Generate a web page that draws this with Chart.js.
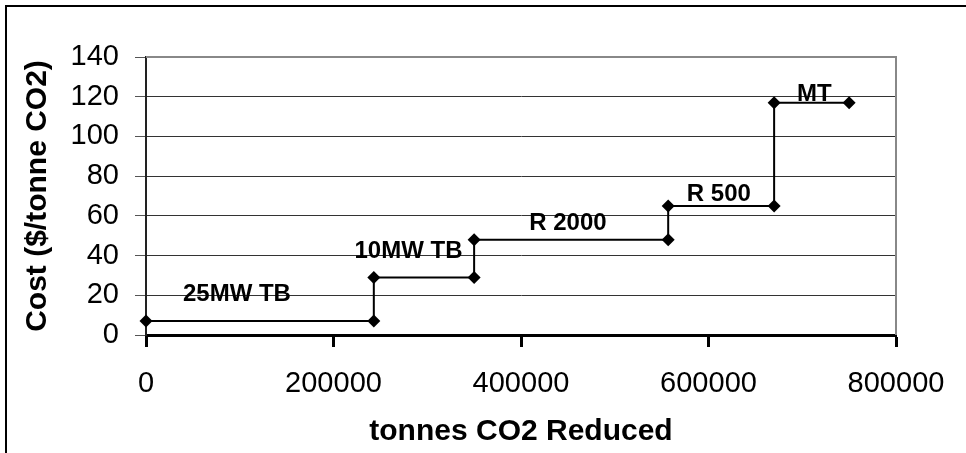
<!DOCTYPE html>
<html>
<head>
<meta charset="utf-8">
<script src="https://cdn.jsdelivr.net/npm/chart.js@4/dist/chart.umd.min.js"></script>
<style>
  body { margin: 0; background: #fff; }
  canvas { display: block; }
</style>
</head>
<body>
<canvas id="costChart" width="966" height="453"></canvas>
<script>
// step curve: cumulative tonnes reduced vs cost per tonne
const tonnesReduced = [0, 243000, 243000, 350000, 350000, 557000, 557000, 670000, 670000, 750000];
const costPerTonne = [7, 7, 29, 29, 48, 48, 65, 65, 117, 117];

// option labels and where they sit (data units)
const optionNames = ['25MW TB', '10MW TB', 'R 2000', 'R 500', 'MT'];
const optionLabelX = [97000, 280000, 450000, 611000, 713000];
const optionLabelY = [21.5, 43, 57, 72, 122];

const FONT = "'Liberation Sans', Arial, sans-serif";

const points = tonnesReduced.map((x, i) => ({ x: x, y: costPerTonne[i] }));

// white page + outer frame, and grey plot border on top/right
const framePlugin = {
  id: 'frame',
  beforeDraw(chart) {
    const ctx = chart.ctx;
    ctx.save();
    ctx.fillStyle = '#fff';
    ctx.fillRect(0, 0, chart.width, chart.height);
    ctx.strokeStyle = '#000';
    ctx.lineWidth = 2;
    ctx.strokeRect(6, 6, 2000, 2000);
    ctx.restore();
  },
  beforeDatasetsDraw(chart) {
    const a = chart.chartArea;
    const ctx = chart.ctx;
    ctx.save();
    ctx.strokeStyle = '#888';
    ctx.lineWidth = 2;
    ctx.beginPath();
    ctx.moveTo(a.left, a.top);
    ctx.lineTo(a.right, a.top);
    ctx.lineTo(a.right, a.bottom);
    ctx.stroke();
    ctx.restore();
  }
};

const labelPlugin = {
  id: 'optionLabels',
  afterDatasetsDraw(chart) {
    const ctx = chart.ctx;
    const xs = chart.scales.x, ys = chart.scales.y;
    ctx.save();
    ctx.font = 'bold 24px ' + FONT;
    ctx.fillStyle = '#000';
    ctx.textAlign = 'center';
    ctx.textBaseline = 'alphabetic';
    optionNames.forEach((name, i) => {
      const px = xs.getPixelForValue(optionLabelX[i]);
      const py = ys.getPixelForValue(optionLabelY[i]);
      ctx.fillText(name, px, py + 0.36 * 24);
    });
    ctx.restore();
  }
};

new Chart('costChart', {
  type: 'scatter',
  data: {
    datasets: [{
      data: points,
      showLine: true,
      borderColor: '#000',
      borderWidth: 2,
      pointStyle: 'rectRot',
      pointRadius: 6.5,
      pointBackgroundColor: '#000',
      pointBorderColor: '#000',
      pointBorderWidth: 0,
      clip: false
    }]
  },
  options: {
    responsive: false,
    animation: false,
    layout: { padding: { top: 57, right: 70, left: 0, bottom: 0 } },
    plugins: {
      legend: { display: false },
      tooltip: { enabled: false }
    },
    scales: {
      x: {
        type: 'linear',
        min: 0,
        max: 800000,
        afterFit: (s) => { s.height = 118; },
        ticks: {
          stepSize: 200000,
          color: '#000',
          padding: 20,
          maxRotation: 0,
          font: { family: FONT, size: 29 },
          callback: (v) => String(v)
        },
        grid: {
          drawOnChartArea: false,
          drawTicks: true,
          tickLength: 12,
          tickWidth: 3,
          tickColor: '#000'
        },
        border: { color: '#000', width: 3 },
        title: {
          display: true,
          text: 'tonnes CO2 Reduced',
          color: '#000',
          font: { family: FONT, size: 30, weight: 'bold' },
          padding: { top: 0, bottom: 3 }
        }
      },
      y: {
        min: 0,
        max: 140,
        afterFit: (s) => { s.width = 146; },
        ticks: {
          stepSize: 20,
          color: '#000',
          padding: 16,
          font: { family: FONT, size: 29 }
        },
        grid: {
          color: '#333',
          lineWidth: 1,
          tickLength: 11,
          tickColor: '#555'
        },
        border: { color: '#222', width: 2 },
        title: {
          display: true,
          text: 'Cost ($/tonne CO2)',
          color: '#000',
          font: { family: FONT, size: 30, weight: 'bold' },
          padding: { top: 20, bottom: 0 }
        }
      }
    }
  },
  plugins: [framePlugin, labelPlugin]
});
</script>
</body>
</html>
